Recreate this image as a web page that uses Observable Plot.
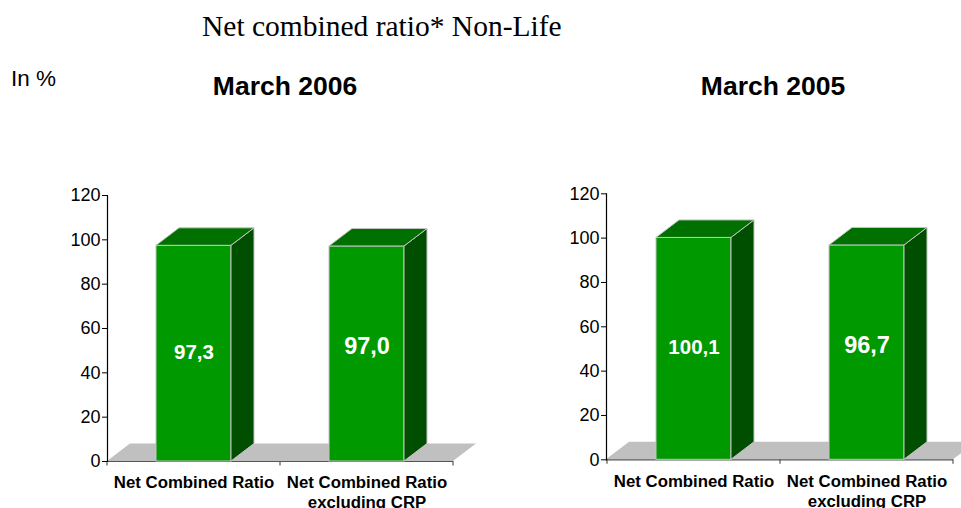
<!DOCTYPE html>
<html><head><meta charset="utf-8">
<script src="https://cdn.jsdelivr.net/npm/d3@7"></script>
<script src="https://cdn.jsdelivr.net/npm/@observablehq/plot@0.6"></script>
<style>
html,body{margin:0;padding:0;background:#fff;}
#root{position:relative;width:961px;height:508px;overflow:hidden;font-family:Arial,"Liberation Sans",sans-serif;color:#000;}
.abs{position:absolute;white-space:nowrap;line-height:1;}
.panel{position:absolute;}
</style></head><body>
<div id="root">
  <div class="abs" id="title" style="left:202px;top:12px;font-family:'Times New Roman','Liberation Serif',serif;font-size:29.5px;"></div>
  <div class="abs" id="unit" style="left:11px;top:68px;font-size:22.5px;"></div>
  <div class="abs" id="t0" style="left:135px;width:300px;text-align:center;top:72.5px;font-size:26.5px;font-weight:bold;"></div>
  <div class="abs" id="t1" style="left:623px;width:300px;text-align:center;top:72.5px;font-size:26.5px;font-weight:bold;"></div>
  <div class="panel" id="p0" style="left:0px;top:170px;"></div>
  <div class="panel" id="p1" style="left:500px;top:170px;"></div>
</div>
<script>
// ---- data ----
const chartTitle = "Net combined ratio* Non-Life";
const unitLabel = "In %";
const panelTitles = ["March 2006", "March 2005"];
const categories = ["Net Combined Ratio", "Net Combined Ratio\nexcluding CRP"];
const valuesMarch2006 = [97.3, 97.0];
const valuesMarch2005 = [100.1, 96.7];
const yTicks = [0, 20, 40, 60, 80, 100, 120];

// ---- styling ----
const FRONT = "#009900", TOP = "#007100", SIDE = "#004f00", EDGE = "#c4c4c4", FLOOR = "#c0c0c0";
const DEPTH_X = 23, DEPTH_Y = -17.5, INSET = 49;
const labelFont = [20.5, 23.5];
const labelShift = [-1, -7.5];

document.getElementById("title").textContent = chartTitle;
document.getElementById("unit").textContent = unitLabel;
document.getElementById("t0").textContent = panelTitles[0];
document.getElementById("t1").textContent = panelTitles[1];

function bw(X) { return typeof X.bandwidth === "function" ? X.bandwidth() : X.bandwidth; }

function floorMark(index, scales, values, dim) {
  const X = scales.x, Y = scales.y;
  const x0 = dim.marginLeft, x1 = dim.width - dim.marginRight, y0 = Y(0);
  const g = d3.create("svg:g");
  g.append("polygon")
    .attr("points", [[x0, y0], [x1, y0], [x1 + DEPTH_X, y0 + DEPTH_Y], [x0 + DEPTH_X, y0 + DEPTH_Y]].join(" "))
    .attr("fill", FLOOR);
  const b = bw(X);
  const edges = [X(categories[0]), ...categories.map(c => X(c) + b)];
  for (const e of edges) {
    g.append("line").attr("x1", e).attr("x2", e).attr("y1", y0).attr("y2", y0 + 4.5)
      .attr("stroke", "#555").attr("stroke-width", 1.2);
  }
  return g.node();
}

function makeFacesMark(data) {
  return function (index, scales, values, dim) {
    const X = scales.x, Y = scales.y;
    const b = bw(X);
    const y0 = Y(0);
    const g = d3.create("svg:g");
    for (const d of data) {
      const xl = X(d.cat) + INSET, xr = X(d.cat) + b - INSET, yt = Y(d.value);
      g.append("polygon")
        .attr("points", [[xr, yt], [xr + DEPTH_X, yt + DEPTH_Y], [xr + DEPTH_X, y0 + DEPTH_Y], [xr, y0]].join(" "))
        .attr("fill", SIDE).attr("stroke", EDGE).attr("stroke-width", 1);
      g.append("polygon")
        .attr("points", [[xl, yt], [xr, yt], [xr + DEPTH_X, yt + DEPTH_Y], [xl + DEPTH_X, yt + DEPTH_Y]].join(" "))
        .attr("fill", TOP).attr("stroke", EDGE).attr("stroke-width", 1);
    }
    return g.node();
  };
}

function valueLabels(data, i) {
  return Plot.text(data.filter(d => d.i === i), {
    x: "cat", y: d => d.value / 2,
    text: d => d.value.toFixed(1).replace(".", ","),
    fill: "#fff", fontWeight: "bold", fontSize: labelFont[i], dy: labelShift[i]
  });
}

function panel(values, cfg) {
  const data = categories.map((c, i) => ({cat: c, value: values[i], i}));
  return Plot.plot({
    width: cfg.width, height: 338,
    marginTop: cfg.mt, marginBottom: 338 - cfg.mt - 266, marginLeft: cfg.ml, marginRight: cfg.mr,
    style: {fontFamily: "Arial, 'Liberation Sans', sans-serif", background: "#fff", color: "#000", overflow: "hidden"},
    x: {domain: categories, padding: 0, axis: null},
    y: {domain: [0, 120], axis: null},
    marks: [
      floorMark,
      Plot.ruleY([0], {stroke: "#555", strokeWidth: 1.2}),
      Plot.frame({anchor: "left", stroke: "#000", strokeWidth: 1.2}),
      Plot.axisY({ticks: yTicks, tickSize: 5, tickPadding: 2, fontSize: 18, stroke: "#000", label: null}),
      Plot.axisX({tickSize: 0, tickPadding: 12.5, fontSize: 16.8, fontWeight: "bold", lineHeight: 1.2, label: null}),
      Plot.barY(data, {x: "cat", y: "value", fill: FRONT, stroke: EDGE, strokeWidth: 1, insetLeft: INSET, insetRight: INSET}),
      makeFacesMark(data),
      valueLabels(data, 0),
      valueLabels(data, 1)
    ]
  });
}

document.getElementById("p0").append(panel(valuesMarch2006, {width: 480, mt: 25, ml: 107, mr: 27}));
document.getElementById("p1").append(panel(valuesMarch2005, {width: 461, mt: 23.3, ml: 106, mr: 8}));
</script>
</body></html>
